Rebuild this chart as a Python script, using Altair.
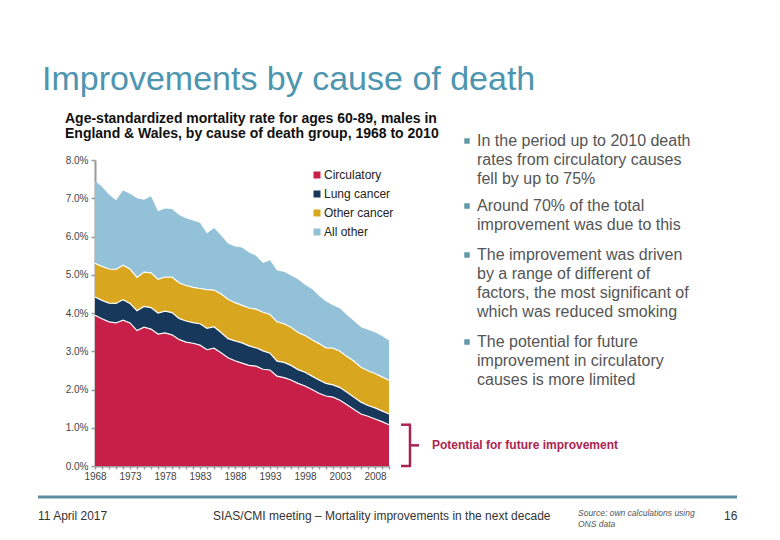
import pandas as pd
import altair as alt

FONT = "Liberation Sans"

# Age-standardised mortality rate (%) by cause, males 60-89, England & Wales
years = list(range(1968, 2011))
circulatory = [3.94, 3.85, 3.77, 3.74, 3.81, 3.74, 3.54, 3.63, 3.58, 3.45,
               3.48, 3.43, 3.31, 3.24, 3.21, 3.16, 3.04, 3.08, 2.96, 2.83,
               2.75, 2.69, 2.63, 2.61, 2.53, 2.51, 2.35, 2.31, 2.25, 2.16,
               2.09, 2.00, 1.90, 1.83, 1.80, 1.72, 1.60, 1.48, 1.36, 1.30,
               1.23, 1.16, 1.08]
lung_cancer = [0.48, 0.48, 0.49, 0.51, 0.54, 0.51, 0.52, 0.54, 0.56, 0.55,
               0.57, 0.58, 0.55, 0.55, 0.54, 0.56, 0.56, 0.56, 0.53, 0.50,
               0.52, 0.53, 0.51, 0.48, 0.48, 0.44, 0.39, 0.40, 0.38, 0.36,
               0.36, 0.35, 0.35, 0.33, 0.32, 0.33, 0.33, 0.32, 0.31, 0.28,
               0.29, 0.28, 0.28]
other_cancer = [0.88, 0.89, 0.89, 0.89, 0.90, 0.90, 0.87, 0.90, 0.91, 0.88,
                0.89, 0.93, 0.93, 0.93, 0.92, 0.92, 1.01, 0.96, 1.01, 1.03,
                1.00, 0.98, 0.99, 1.01, 1.01, 1.01, 1.03, 1.01, 1.00, 0.97,
                0.96, 0.95, 0.95, 0.93, 0.96, 0.95, 0.93, 0.94, 0.91, 0.91,
                0.90, 0.89, 0.88]
all_other = [2.15, 2.08, 1.95, 1.81, 1.95, 1.97, 2.07, 1.89, 2.00, 1.78,
             1.79, 1.78, 1.77, 1.76, 1.75, 1.72, 1.47, 1.62, 1.53, 1.46,
             1.47, 1.51, 1.45, 1.40, 1.29, 1.42, 1.34, 1.36, 1.35, 1.39,
             1.33, 1.33, 1.25, 1.21, 1.12, 1.12, 1.09, 1.05, 1.05, 1.07,
             1.08, 1.07, 1.04]

causes = ["Circulatory", "Lung cancer", "Other cancer", "All other"]
cause_colors = ["#c81f48", "#17375b", "#d9a71f", "#93c1d7"]

y_ticks = [0, 1, 2, 3, 4, 5, 6, 7, 8]

title_text = "Improvements by cause of death"
subtitle_lines = ["Age-standardized mortality rate for ages 60-89, males in",
                  "England & Wales, by cause of death group, 1968 to 2010"]
bullets = [
    ["In the period up to 2010 death", "rates from circulatory causes", "fell by up to 75%"],
    ["Around 70% of the total", "improvement was due to this"],
    ["The improvement was driven", "by a range of different of",
     "factors, the most significant of", "which was reduced smoking"],
    ["The potential for future", "improvement in circulatory", "causes is more limited"],
]
bracket_text = "Potential for future improvement"
footer_date = "11 April 2017"
footer_event = "SIAS/CMI meeting \u2013 Mortality improvements in the next decade"
footer_source = ["Source: own calculations using", "ONS data"]
page_number = "16"

# long table for the stacked areas
series = [circulatory, lung_cancer, other_cancer, all_other]
rows = []
for k, (cause, vals) in enumerate(zip(causes, series)):
    for yr, v in zip(years, vals):
        rows.append({"year": yr, "cause": cause, "k": k, "rate": v})
df = pd.DataFrame(rows)

# page position of the plot origin (top-left of the plot area)
X0, Y0 = 95, 160
W, H = 294, 306

x_scale = alt.Scale(domain=[1968, 2010], nice=False, zero=False)
y_scale = alt.Scale(domain=[0, 8], nice=False)
x_axis = alt.Axis(values=years, format="d",
                  labelExpr="(datum.value - 1968) % 5 == 0 ? datum.label : ''",
                  labelOverlap=False, labelFlush=False, tickSize=3, labelPadding=2)
y_axis = alt.Axis(values=y_ticks, labelExpr="format(datum.value, '.1f') + '%'",
                  labelOverlap=False, labelFlush=False, tickSize=4, labelPadding=3)

x_enc = alt.X("year:Q", title=None, scale=x_scale, axis=x_axis)
y_enc = alt.Y("hi:Q", title=None, scale=y_scale, axis=y_axis)

base = alt.Chart(df).transform_stack(
    stack="rate", groupby=["year"], as_=["lo", "hi"],
    sort=[alt.SortField("k", order="ascending")],
)

areas = base.mark_area().encode(
    x=x_enc,
    y=y_enc,
    y2="lo:Q",
    color=alt.Color("cause:N", title=None,
                    scale=alt.Scale(domain=causes, range=cause_colors),
                    legend=alt.Legend(orient="none", legendX=216, legendY=9,
                                      symbolType="square", symbolSize=49,
                                      symbolStrokeWidth=0, labelFontSize=12,
                                      labelFont=FONT, labelColor="#222",
                                      rowPadding=7, padding=0, labelOffset=1)),
)

edges = base.transform_filter("datum.k < 3").mark_line(
    color="white", strokeWidth=1.2
).encode(x=x_enc, y=y_enc, detail="cause:N")

one = pd.DataFrame({"a": [0]})


def text(lines, px, py, size, color="#333", weight="normal", style="normal", lh=None):
    kw = dict(text=lines, align="left", baseline="alphabetic", font=FONT,
              fontSize=size, color=color, fontWeight=weight, fontStyle=style)
    if lh is not None:
        kw["lineHeight"] = lh
    return alt.Chart(one).mark_text(**kw).encode(
        x=alt.value(px - X0), y=alt.value(py - Y0))


layers = [areas, edges]

layers.append(text(title_text, 42, 90, 34, color="#4e95b0"))
layers.append(text(subtitle_lines, 65, 123, 14, color="#111", weight="bold", lh=15))

bullet_tops = [146, 211, 260, 347]
for lines, by in zip(bullets, bullet_tops):
    layers.append(alt.Chart(one).mark_square(size=30, color="#5f9aa8", opacity=1).encode(
        x=alt.value(467 - X0), y=alt.value(by - 5 - Y0)))
    layers.append(text(lines, 477, by, 16, color="#555", lh=19))

# bracket marking the remaining circulatory rate in 2010
bc = "#a8234d"
circ_end = circulatory[-1]


def level(v):
    return alt.Y(datum=v, title=None, scale=y_scale, axis=y_axis)


layers.append(alt.Chart(one).mark_rule(color=bc, strokeWidth=2.5).encode(
    x=alt.value(410 - X0), y=level(circ_end), y2=alt.datum(0)))
for yv in [circ_end, 0]:
    layers.append(alt.Chart(one).mark_rule(color=bc, strokeWidth=2.5).encode(
        x=alt.value(401 - X0), x2=alt.value(411 - X0), y=level(yv)))
layers.append(alt.Chart(one).mark_rule(color=bc, strokeWidth=2.5).encode(
    x=alt.value(410 - X0), x2=alt.value(419 - X0), y=level(circ_end / 2)))
layers.append(text(bracket_text, 432, 449, 12, color="#ad2450", weight="bold"))

# footer
layers.append(alt.Chart(one).mark_rule(color="#5b8fa0", strokeWidth=3).encode(
    x=alt.value(38 - X0), x2=alt.value(737 - X0), y=alt.value(497 - Y0)))
layers.append(text(footer_date, 38, 520, 12, color="#333"))
layers.append(text(footer_event, 213, 520, 12, color="#333"))
layers.append(text(footer_source, 578, 516, 8.5, color="#555", style="italic", lh=11))
layers.append(text(page_number, 724, 520, 12, color="#333"))

chart = alt.layer(*layers).properties(
    width=W, height=H,
    autosize=alt.AutoSizeParams(type="none"),
    padding={"left": X0 - 8, "top": Y0 - 8, "right": 764 - (X0 - 8) - W,
             "bottom": 524 - (Y0 - 8) - H},
).configure_view(
    strokeWidth=0,
).configure_axis(
    grid=False,
    domainColor="#9a9a9a",
    domainWidth=2,
    tickColor="#9a9a9a",
    tickWidth=1.5,
    labelFont=FONT,
    labelFontSize=10,
    labelColor="#444",
)

chart.save("out.html", embed_options={"renderer": "svg", "actions": False})
